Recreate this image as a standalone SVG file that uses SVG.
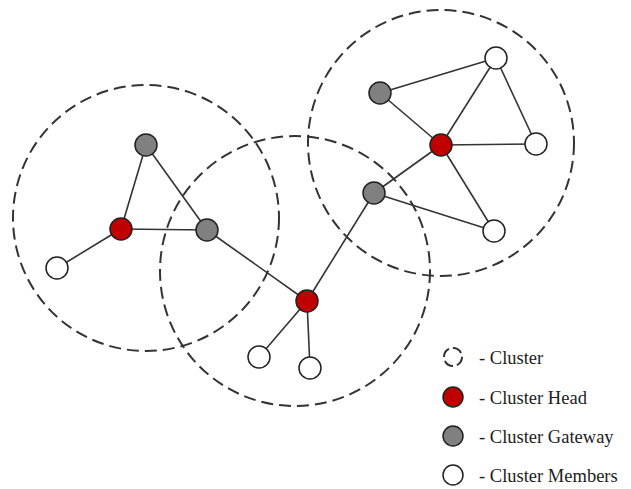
<svg xmlns="http://www.w3.org/2000/svg" width="631" height="489" viewBox="0 0 631 489">
  <style>
    .cluster { fill: none; stroke: #333; stroke-width: 2; stroke-dasharray: 12 6; }
    .edge { stroke: #333; stroke-width: 1.6; fill: none; }
    .node { stroke: #222; stroke-width: 1.5; }
    .head { fill: #c00000; }
    .gate { fill: #808080; }
    .member { fill: #fff; }
    .label { font-family: "Liberation Serif", "Times New Roman", serif; font-size: 18.5px; fill: #222; }
  </style>
  <rect width="631" height="489" fill="#fff"/>

  <!-- cluster boundaries -->
  <g id="clusters">
    <circle class="cluster" cx="146" cy="218" r="133"/>
    <circle class="cluster" cx="295" cy="271" r="135"/>
    <circle class="cluster" cx="441" cy="143" r="133"/>
  </g>

  <!-- links -->
  <g id="connectors">
    <line class="edge" x1="146" y1="145" x2="121" y2="229"/>
    <line class="edge" x1="146" y1="145" x2="207" y2="230"/>
    <line class="edge" x1="121" y1="229" x2="207" y2="230"/>
    <line class="edge" x1="121" y1="229" x2="57" y2="268"/>
    <line class="edge" x1="207" y1="230" x2="307" y2="301"/>
    <line class="edge" x1="307" y1="301" x2="259" y2="357"/>
    <line class="edge" x1="307" y1="301" x2="310" y2="368"/>
    <line class="edge" x1="307" y1="301" x2="374" y2="193"/>
    <line class="edge" x1="374" y1="193" x2="441" y2="145"/>
    <line class="edge" x1="374" y1="193" x2="494" y2="231"/>
    <line class="edge" x1="380" y1="93" x2="496" y2="58"/>
    <line class="edge" x1="380" y1="93" x2="441" y2="145"/>
    <line class="edge" x1="441" y1="145" x2="496" y2="58"/>
    <line class="edge" x1="441" y1="145" x2="536" y2="144"/>
    <line class="edge" x1="441" y1="145" x2="494" y2="231"/>
    <line class="edge" x1="496" y1="58" x2="536" y2="144"/>
  </g>

  <!-- left cluster -->
  <g id="n-left-gw-top"><circle class="node gate" cx="146" cy="145" r="11"/></g>
  <g id="n-left-head"><circle class="node head" cx="121" cy="229" r="11"/></g>
  <g id="n-left-gw-right"><circle class="node gate" cx="207" cy="230" r="11"/></g>
  <g id="n-left-member"><circle class="node member" cx="57" cy="268" r="11"/></g>

  <!-- middle cluster -->
  <g id="n-mid-head"><circle class="node head" cx="307" cy="301" r="11"/></g>
  <g id="n-mid-member-1"><circle class="node member" cx="259" cy="357" r="11"/></g>
  <g id="n-mid-member-2"><circle class="node member" cx="310" cy="368" r="11"/></g>
  <g id="n-mid-gw"><circle class="node gate" cx="374" cy="193" r="11"/></g>

  <!-- right cluster -->
  <g id="n-right-gw-top"><circle class="node gate" cx="380" cy="93" r="11"/></g>
  <g id="n-right-head"><circle class="node head" cx="441" cy="145" r="11"/></g>
  <g id="n-right-member-top"><circle class="node member" cx="496" cy="58" r="11"/></g>
  <g id="n-right-member-right"><circle class="node member" cx="536" cy="144" r="11"/></g>
  <g id="n-right-member-bottom"><circle class="node member" cx="494" cy="231" r="11"/></g>

  <!-- legend -->
  <g id="legend">
    <circle cx="453" cy="357" r="9" fill="none" stroke="#333" stroke-width="2" stroke-dasharray="10 4"/>
    <text class="label" x="479" y="364">- Cluster</text>
    <circle class="node head" cx="453" cy="397" r="10"/>
    <text class="label" x="479" y="404">- Cluster Head</text>
    <circle class="node gate" cx="453" cy="436" r="10"/>
    <text class="label" x="479" y="443">- Cluster Gateway</text>
    <circle class="node member" cx="453" cy="475" r="10"/>
    <text class="label" x="479" y="482">- Cluster Members</text>
  </g>
</svg>
